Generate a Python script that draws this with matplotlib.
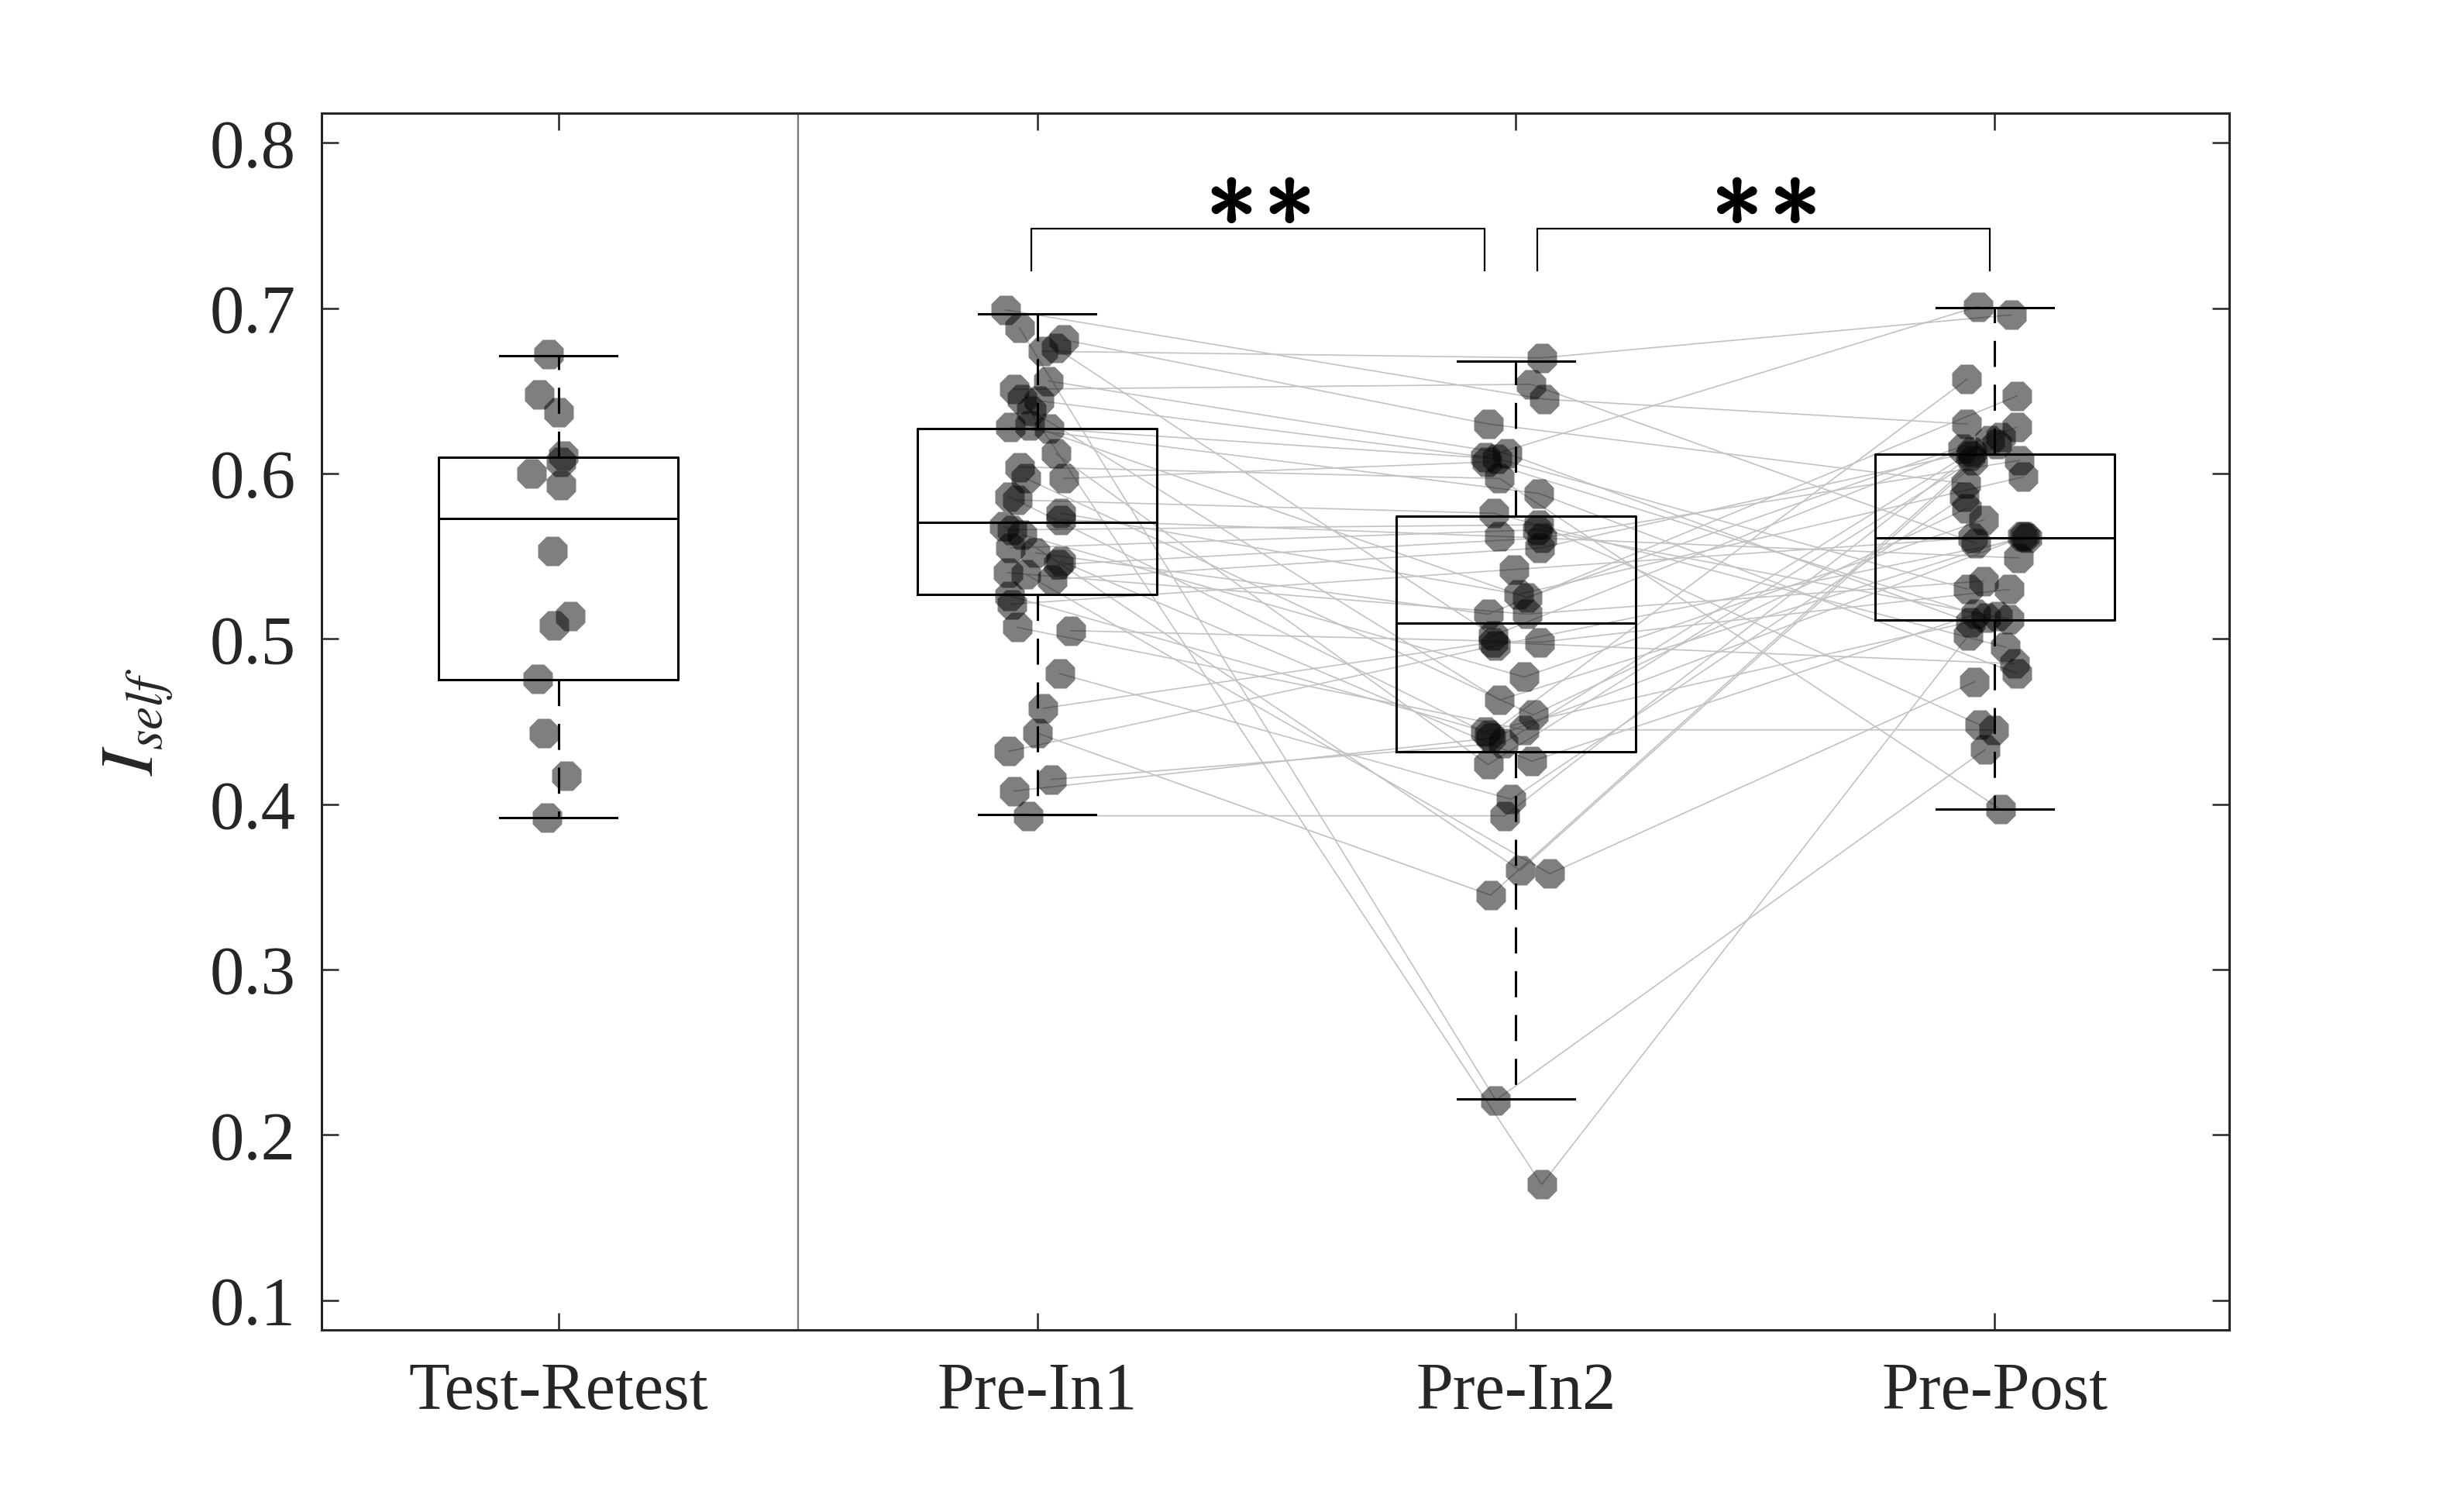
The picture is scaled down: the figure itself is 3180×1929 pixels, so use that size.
import matplotlib.pyplot as plt
import matplotlib.patheffects as pe
import numpy as np

plt.rcParams['font.family'] = ['Liberation Serif', 'DejaVu Serif']

# group labels on the x axis
group_names = ["Test-Retest", "Pre-In1", "Pre-In2", "Pre-Post"]
group_pos = [1, 2, 3, 4]

# test-retest subjects (not paired with the others)
tr_y = [0.672, 0.648, 0.637, 0.611, 0.607, 0.600, 0.593, 0.553, 0.514, 0.508,
        0.476, 0.443, 0.417, 0.392]
tr_x = [0.980, 0.960, 1.000, 1.010, 1.005, 0.944, 1.005, 0.987, 1.024, 0.990,
        0.957, 0.970, 1.016, 0.976]

# paired subjects, same order in all three conditions
in1_y = [0.699, 0.688, 0.674, 0.681, 0.676, 0.656, 0.651, 0.645, 0.644, 0.638,
         0.628, 0.629, 0.627, 0.612, 0.604, 0.597, 0.597, 0.586, 0.584, 0.576,
         0.572, 0.568, 0.566, 0.563, 0.555, 0.552, 0.545, 0.547, 0.540, 0.539,
         0.536, 0.526, 0.521, 0.507, 0.505, 0.479, 0.458, 0.443, 0.432, 0.415,
         0.408, 0.393]
in1_x = [1.934, 1.963, 2.012, 2.055, 2.039, 2.023, 1.952, 1.969, 2.004, 1.988,
         1.944, 1.985, 2.025, 2.039, 1.963, 1.977, 2.055, 1.942, 1.958, 2.050,
         2.050, 1.931, 1.947, 1.969, 1.944, 1.996, 2.044, 2.050, 1.939, 1.977,
         2.031, 1.942, 1.947, 1.958, 2.070, 2.047, 2.012, 2.000, 1.941, 2.030,
         1.952, 1.982]

in2_y = [0.645, 0.221, 0.670, 0.630, 0.502, 0.612, 0.654, 0.170, 0.610, 0.463,
         0.588, 0.525, 0.609, 0.424, 0.597, 0.454, 0.607, 0.442, 0.576, 0.527,
         0.562, 0.360, 0.569, 0.477, 0.566, 0.515, 0.561, 0.426, 0.515, 0.358,
         0.555, 0.444, 0.542, 0.445, 0.498, 0.403, 0.498, 0.345, 0.496, 0.437,
         0.440, 0.393]
in2_x = [3.059, 2.958, 3.054, 2.942, 2.952, 2.982, 3.031, 3.054, 2.936, 2.966,
         3.048, 3.023, 2.961, 2.942, 2.966, 3.036, 2.940, 2.945, 2.954, 3.006,
         2.966, 3.009, 3.048, 3.017, 3.045, 2.942, 3.055, 3.033, 3.023, 3.071,
         3.050, 2.936, 2.996, 3.017, 3.050, 2.990, 2.952, 2.947, 2.958, 2.974,
         2.948, 2.977]

post_y = [0.630, 0.433, 0.696, 0.594, 0.615, 0.510, 0.558, 0.502, 0.701, 0.562,
          0.479, 0.628, 0.530, 0.608, 0.397, 0.579, 0.513, 0.657, 0.495, 0.598,
          0.549, 0.618, 0.448, 0.572, 0.512, 0.647, 0.608, 0.515, 0.535, 0.474,
          0.613, 0.514, 0.561, 0.445, 0.530, 0.586, 0.485, 0.622, 0.561, 0.620,
          0.562, 0.611]
post_x = [3.942, 3.980, 4.035, 3.939, 3.934, 3.950, 3.960, 3.945, 3.965, 4.058,
          4.047, 4.047, 3.945, 3.955, 4.012, 3.942, 3.982, 3.942, 4.023, 4.060,
          4.050, 4.004, 3.969, 3.977, 4.031, 4.047, 4.052, 3.960, 3.977, 3.958,
          3.952, 4.006, 3.955, 3.998, 4.031, 3.936, 4.042, 4.012, 4.068, 3.990,
          4.062, 3.950]

# box plot statistics
box_q1 = [0.4755, 0.5267, 0.4316, 0.5116]
box_med = [0.5728, 0.5704, 0.5096, 0.5610]
box_q3 = [0.6101, 0.6272, 0.5741, 0.6119]
box_lo = [0.3920, 0.3939, 0.2218, 0.3972]
box_hi = [0.6714, 0.6967, 0.6680, 0.7003]

# significance marks between conditions (number of stars)
sig_pairs = [(2, 3), (3, 4)]
sig_stars = [2, 2]


fig = plt.figure(figsize=(15.9, 9.645), dpi=200)
ax = fig.add_axes([0.1305, 0.1104, 0.7742, 0.8139])

# subject lines
for i in range(len(in1_y)):
    ax.plot([in1_x[i], in2_x[i], post_x[i]], [in1_y[i], in2_y[i], post_y[i]],
            color='#c2c2c2', lw=0.6, zorder=1)

stats = []
for i in range(len(group_pos)):
    stats.append(dict(med=box_med[i], q1=box_q1[i], q3=box_q3[i],
                      whislo=box_lo[i], whishi=box_hi[i], fliers=[]))
ax.bxp(stats, positions=group_pos, widths=0.5, capwidths=0.245,
       showfliers=False, manage_ticks=False,
       boxprops=dict(color='k', lw=1.1),
       medianprops=dict(color='k', lw=1.1),
       whiskerprops=dict(color='k', lw=1.1, linestyle=(0, (11, 7.5))),
       capprops=dict(color='k', lw=1.1), zorder=2)

for xs, ys in [(tr_x, tr_y), (in1_x, in1_y), (in2_x, in2_y), (post_x, post_y)]:
    ax.plot(xs, ys, ls='none', marker='8', ms=14.5, mfc='k', mec='none',
            alpha=0.5, zorder=3)

# separator between test-retest and the intervention conditions
ax.axvline(1.5, color='#777777', lw=0.8, zorder=1)

# significance brackets
insets = [(-0.012, -0.065), (0.045, -0.010)]
y_top, y_leg = 0.748, 0.723
star_fx = [pe.withStroke(linewidth=1.6, foreground='k')]
for (a, b), n, (da, db) in zip(sig_pairs, sig_stars, insets):
    x0, x1 = a + da, b + db
    ax.plot([x0, x0, x1, x1], [y_leg, y_top, y_top, y_leg], color='k',
            lw=0.8, solid_joinstyle='round', zorder=4)
    xc = (x0 + x1) / 2
    for k in range(n):
        off = (k - (n - 1) / 2) * 27
        ax.annotate(r'$\ast$', xy=(xc, 0.7645), xytext=(off, 0),
                    textcoords='offset points', ha='center', va='center',
                    fontsize=46, math_fontfamily='cm', path_effects=star_fx)

ax.set_xlim(0.505, 4.49)
ax.set_ylim(0.082, 0.818)
ax.set_xticks(group_pos)
ax.set_xticklabels(group_names)
ax.set_yticks(np.arange(0.1, 0.81, 0.1))
ax.set_yticklabels([f"{v:.1f}" for v in np.arange(0.1, 0.81, 0.1)])
ax.tick_params(direction='in', top=True, right=True, length=7.8, width=0.9,
               color='#262626', labelcolor='#262626')
ax.tick_params(axis='x', labelsize=31, pad=15)
ax.tick_params(axis='y', labelsize=32, pad=12)
for sp in ax.spines.values():
    sp.set_linewidth(1.1)
    sp.set_color('#262626')

ax.set_ylabel(r'$I_{self}$', fontsize=35, math_fontfamily='stix',
              labelpad=16, color='#262626')

fig.savefig('out.png', dpi=200, facecolor='white')
